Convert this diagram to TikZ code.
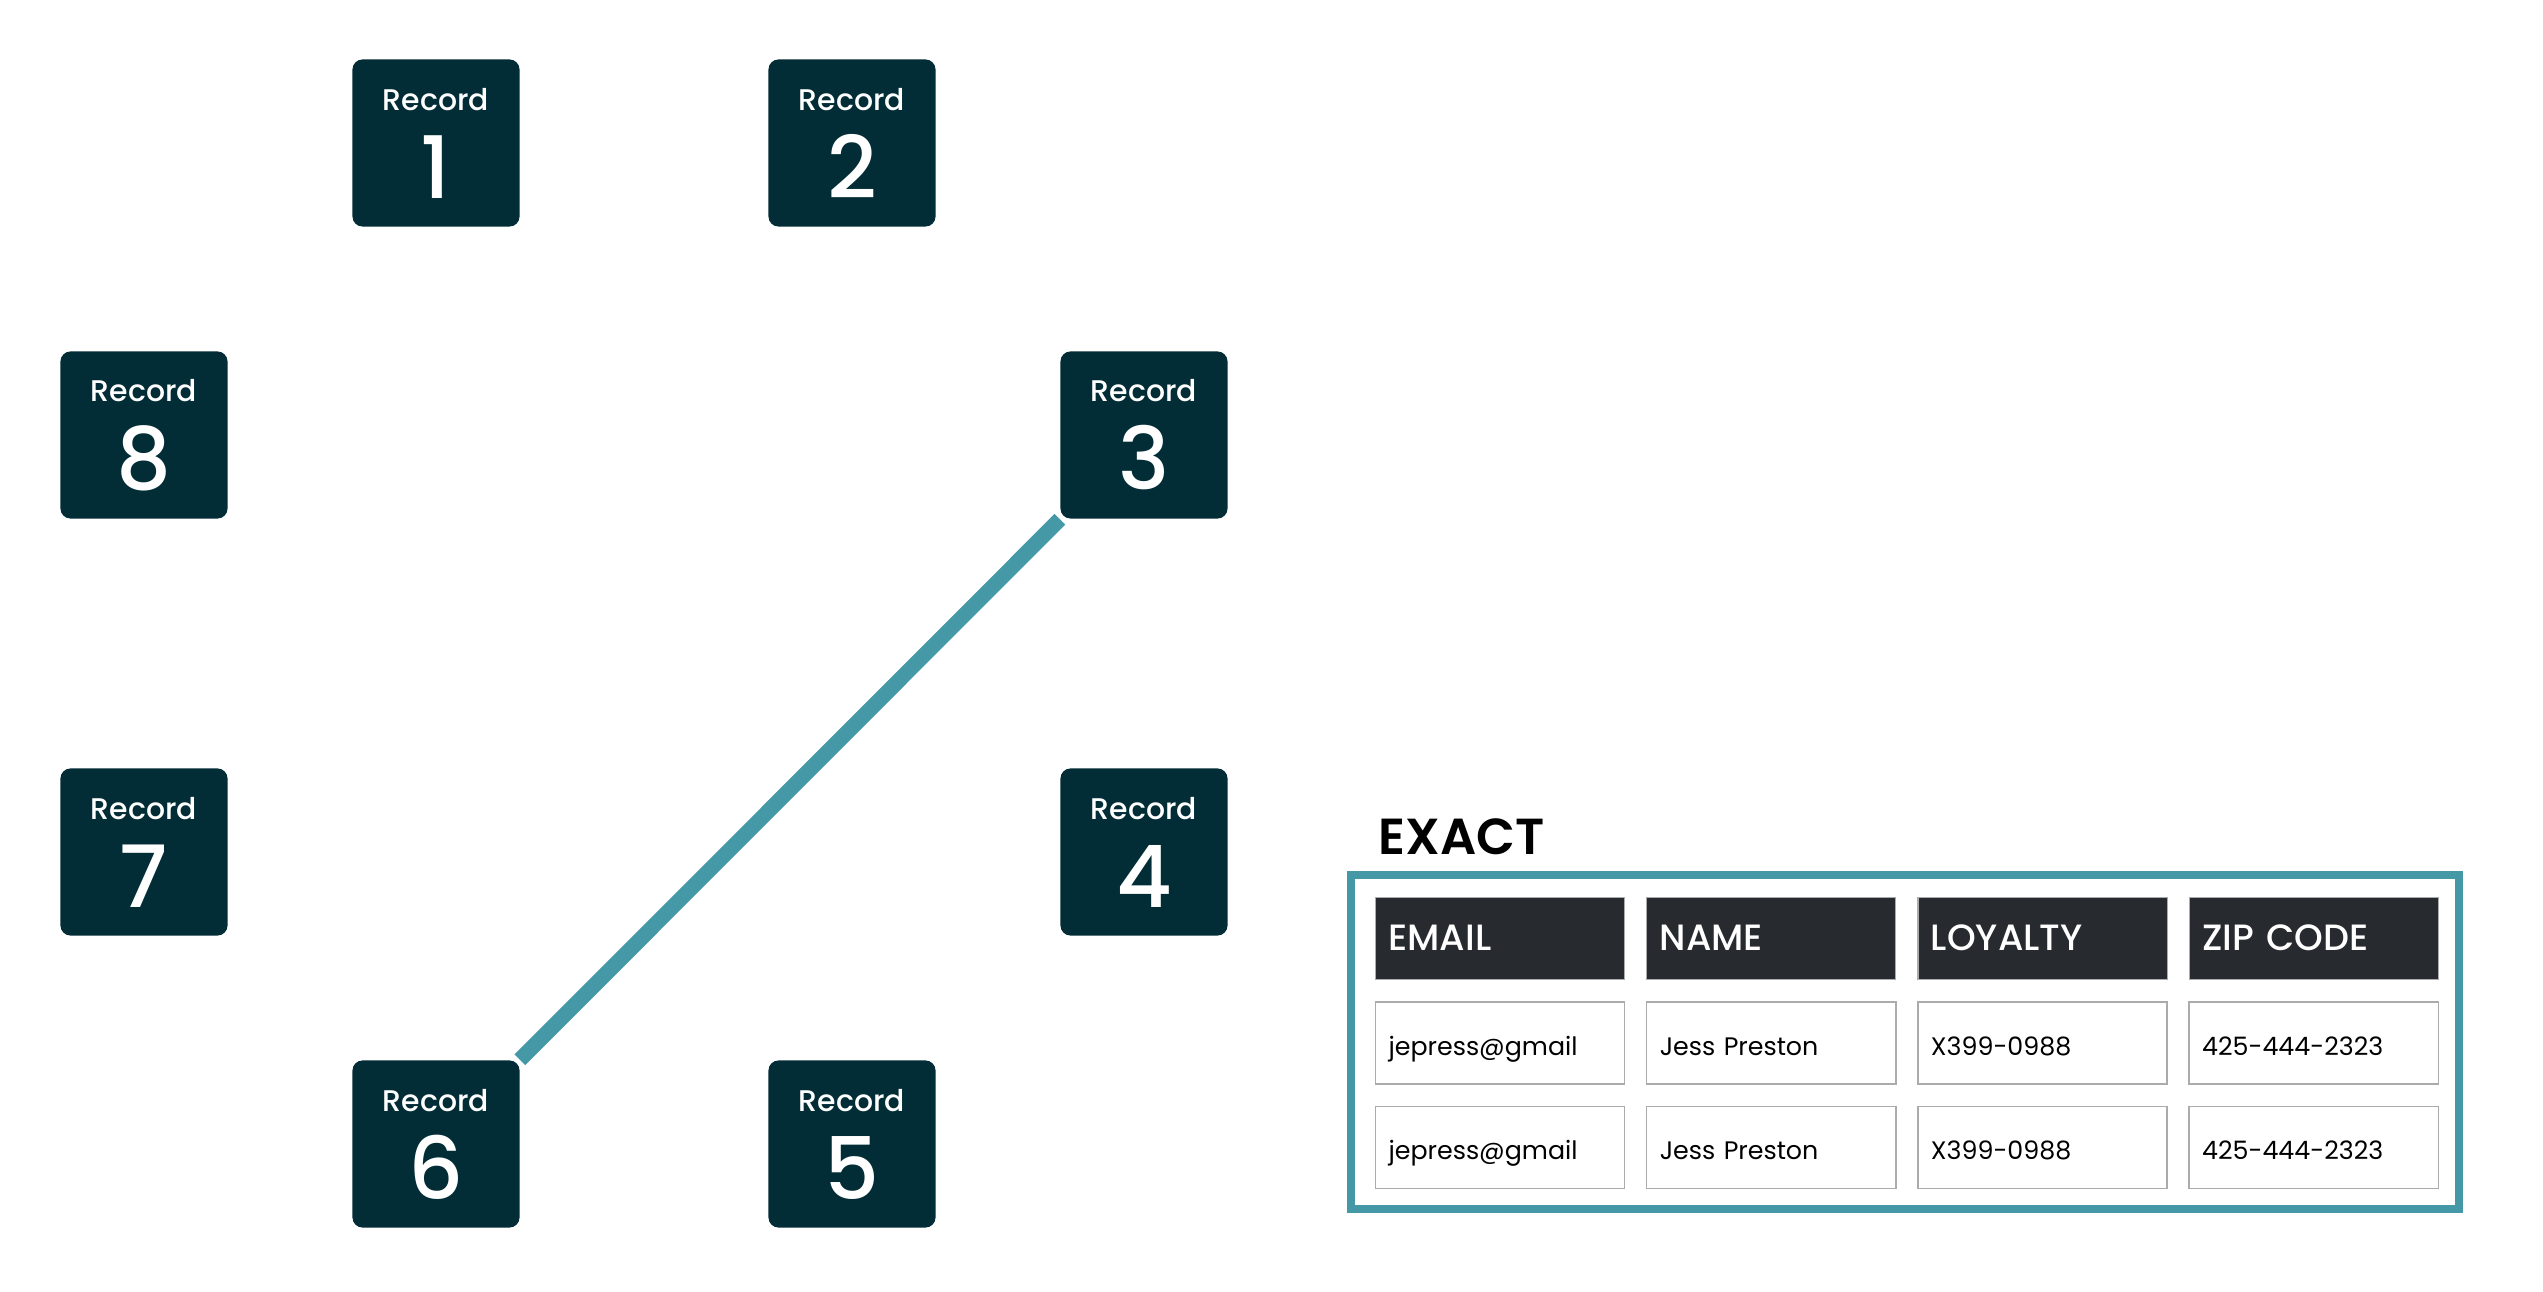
\documentclass[tikz,border=0pt]{standalone}
\usepackage{fontspec}
\setmainfont{Poppins}
\newfontfamily\medfont{Poppins Medium}
\newfontfamily\semifont{Poppins SemiBold}
\usetikzlibrary{backgrounds,positioning}
\definecolor{recfill}{HTML}{022D36}
\definecolor{teal}{HTML}{4599A6}
\definecolor{headfill}{HTML}{272A2E}
\definecolor{cellline}{HTML}{ABABAB}
\tikzstyle{record}=[
	rectangle,
	rounded corners=0.1cm,
	fill=recfill,
	text=white,
	align=center,
	minimum size=1.67cm,
	inner sep=0,
	font=\medfont\fontsize{8.5}{25}\selectfont]
\tikzstyle{link}=[
	draw=teal,
	line width=4.3pt]
\tikzstyle{head}=[
	rectangle,
	fill=headfill,
	draw=cellline,
	line width=0.3pt,
	text=white,
	align=left,
	text width=2.23cm,
	text height=0.7em,
	text depth=0pt,
	inner xsep=0.13cm,
	inner ysep=0,
	minimum height=0.82cm,
	font=\medfont\fontsize{10.4}{11}\selectfont]
\tikzstyle{cell}=[
	rectangle,
	draw=cellline,
	line width=0.4pt,
	align=left,
	text width=2.23cm,
	text height=0.7em,
	text depth=0pt,
	inner xsep=0.13cm,
	inner ysep=0,
	minimum height=0.82cm,
	font=\fontsize{7.2}{9}\selectfont]
\newcommand{\recnum}[1]{Record\\{\fontsize{24.5}{25}\selectfont #1}}

\begin{document}
\begin{tikzpicture}[x=0.01cm,y=-0.01cm]
	\useasboundingbox (0,0) rectangle (2543,1292);
	% records round the ring
	\node[record] (rec1) at (436,143)  {\recnum{1}};
	\node[record] (rec2) at (852,143)  {\recnum{2}};
	\node[record] (rec3) at (1144,435) {\recnum{3}};
	\node[record] (rec4) at (1144,852) {\recnum{4}};
	\node[record] (rec5) at (852,1144) {\recnum{5}};
	\node[record] (rec6) at (436,1144) {\recnum{6}};
	\node[record] (rec7) at (144,852)  {\recnum{7}};
	\node[record] (rec8) at (144,435)  {\recnum{8}};
	\begin{pgfonlayer}{background}
		\draw[link] (rec6) -- (rec3);
	\end{pgfonlayer}
	% match table
	\node[anchor=base west,inner sep=0,font=\semifont\fontsize{14.4}{16}\selectfont] (exact) at (1378,854) {EXACT};
	\begin{scope}[node distance=0.21cm]
		\node[head,anchor=north west] (hemail) at (1375,897) {EMAIL};
		\node[head] (hname)  [right=of hemail] {NAME};
		\node[head] (hloyal) [right=of hname]  {LOYALTY};
		\node[head] (hzip)   [right=of hloyal] {ZIP CODE};
		\node[cell] (aemail) [below=of hemail] {jepress@gmail};
		\node[cell] (aname)  [below=of hname]  {Jess Preston};
		\node[cell] (aloyal) [below=of hloyal] {X399-0988};
		\node[cell] (azip)   [below=of hzip]   {425-444-2323};
		\node[cell] (bemail) [below=of aemail] {jepress@gmail};
		\node[cell] (bname)  [below=of aname]  {Jess Preston};
		\node[cell] (bloyal) [below=of aloyal] {X399-0988};
		\node[cell] (bzip)   [below=of azip]   {425-444-2323};
	\end{scope}
	\draw[teal,line width=2.3pt] (1351,875) rectangle (2459,1209);
\end{tikzpicture}
\end{document}
